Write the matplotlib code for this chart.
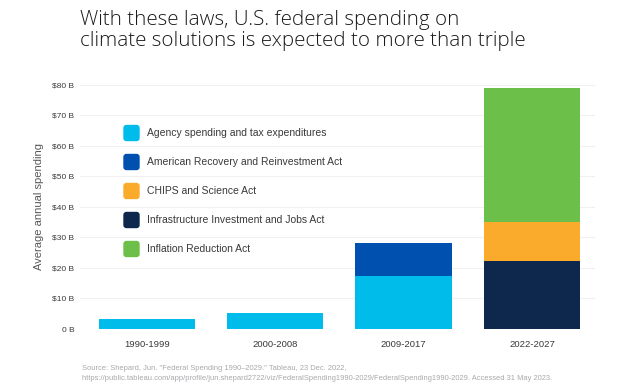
import matplotlib
matplotlib.use("Agg")
import matplotlib.pyplot as plt
from matplotlib.patches import FancyBboxPatch
import numpy as np

plt.rcParams['font.family'] = ['Liberation Sans', 'DejaVu Sans']

periods = ['1990-1999', '2000-2008', '2009-2017', '2022-2027']
agency = [3.2, 5.3, 17.2, 0]
arra = [0, 0, 10.8, 0]
iija = [0, 0, 0, 22.4]
chips = [0, 0, 0, 12.8]
ira = [0, 0, 0, 43.6]

series = [
    ('Agency spending and tax expenditures', agency, '#00BCEB'),
    ('American Recovery and Reinvestment Act', arra, '#0051AF'),
    ('CHIPS and Science Act', chips, '#FBAB2C'),
    ('Infrastructure Investment and Jobs Act', iija, '#0D274D'),
    ('Inflation Reduction Act', ira, '#6CC04A'),
]
# stacking order bottom -> top
stack_order = [0, 1, 3, 2, 4]

W, H = 624, 392
fig = plt.figure(figsize=(W / 100, H / 100), dpi=100)
ax = fig.add_axes([80 / W, 1 - 329 / H, 515 / W, 244.3 / H])

x = np.arange(len(periods))
bottom = np.zeros(len(periods))
for idx in stack_order:
    label, vals, color = series[idx]
    vals = np.array(vals)
    ax.bar(x, vals, width=0.75, bottom=bottom, color=color, zorder=2)
    bottom += vals

ax.set_xlim(-0.52, 3.49)
ax.set_ylim(0, 80)
ax.set_yticks(range(0, 81, 10))
ax.set_yticklabels(['0 B'] + [f'${v} B' for v in range(10, 81, 10)])
ax.set_xticks(x)
ax.set_xticklabels(periods)
ax.grid(axis='y', color='#F0F0F0', linewidth=0.8, zorder=0)
for s in ax.spines.values():
    s.set_visible(False)
ax.tick_params(axis='y', length=0, pad=4, labelsize=6, labelcolor='#39393B')
ax.tick_params(axis='x', length=0, pad=8, labelsize=6.8, labelcolor='#39393B')
ax.set_ylabel('Average annual spending', fontsize=8, color='#58585B', labelpad=6)

# legend drawn by hand
for i, (label, vals, color) in enumerate(series):
    yc = 133 + 29 * i
    fig.patches.append(FancyBboxPatch((124 / W, 1 - (yc + 7.5) / H), 15 / W, 15 / H,
                                      boxstyle='round,pad=0,rounding_size=0.004',
                                      transform=fig.transFigure, color=color,
                                      mutation_aspect=W / H))
    fig.text(147 / W, 1 - yc / H, label, fontsize=7.5, color='#39393B', va='center')

fig.text(80 / W, 1 - 10 / H,
         'With these laws, U.S. federal spending on\nclimate solutions is expected to more than triple',
         fontsize=14.8, color='#1A1A1A', va='top', linespacing=1.08,
         family=['Open Sans', 'Liberation Sans'], fontweight='light')

fig.text(82 / W, 1 - 369 / H,
         'Source: Shepard, Jun. "Federal Spending 1990\u20132029." Tableau, 23 Dec. 2022,',
         fontsize=5.4, color='#A8A8AC', va='center')
fig.text(82 / W, 1 - 378 / H,
         'https://public.tableau.com/app/profile/jun.shepard2722/viz/FederalSpending1990-2029/FederalSpending1990-2029. Accessed 31 May 2023.',
         fontsize=5.4, color='#A8A8AC', va='center')

fig.savefig('out.png', dpi=100)
